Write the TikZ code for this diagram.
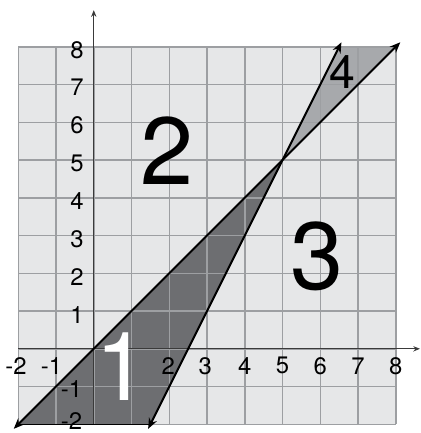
\documentclass[tikz,border=0pt]{standalone}
\usepackage{fontspec}
\setmainfont{TeX Gyre Heros}
\usetikzlibrary{arrows.meta}
\definecolor{gridfill}{HTML}{E6E7E8}
\definecolor{gridline}{HTML}{9D9FA2}
\definecolor{darkreg}{HTML}{6D6E71}
\definecolor{midreg}{HTML}{A7A9AC}
\definecolor{axiscol}{HTML}{3A3A3A}
\tikzset{
  gridlines/.style={gridline, line width=1.1pt},
  axisline/.style={axiscol, line width=0.8pt, -{Stealth[length=5pt,width=4pt]}},
  boundline/.style={black, line width=1.5pt, {Stealth[length=8pt,width=6.5pt]}-{Stealth[length=8pt,width=6.5pt]}},
  ticklab/.style={font=\fontsize{18}{20}\selectfont, inner sep=0pt},
  biglab/.style={font=\fontsize{72}{76}\selectfont, inner sep=0pt},
}
\begin{document}
\begin{tikzpicture}[x=1cm,y=1cm]
\useasboundingbox (-2.484,-2.23) rectangle (8.643,9.24);
% background grid fill
\fill[gridfill] (-2,-2) rectangle (8,8);
% regions
\coordinate (P) at (5,5);
\coordinate (Q1) at (-2,-2);
\coordinate (Q2) at (1.5,-2);
\coordinate (R1) at (6.5,8);
\coordinate (R2) at (8,8);
\fill[darkreg] (Q1) -- (P) -- (Q2) -- cycle;
\fill[midreg] (P) -- (R1) -- (R2) -- cycle;
% grid lines
\draw[gridlines] (-2,-2) grid (8,8);
% axes
\coordinate (xs) at (-2,0);
\coordinate (xe) at (8.64,0);
\coordinate (ys) at (0,-2);
\coordinate (ye) at (0,8.97);
\draw[axisline] (xs) -- (xe);
\draw[axisline] (ys) -- (ye);
% bottom edge of region 1
\draw[black, line width=1pt] (Q1) -- (Q2);
% boundary lines
\coordinate (A1) at (-2.12,-2.12);
\coordinate (A2) at (8.12,8.12);
\coordinate (B1) at (1.44,-2.12);
\coordinate (B2) at (6.56,8.12);
\draw[boundline] (A1) -- (A2);
\draw[boundline] (B1) -- (B2);
% x tick labels
\node[ticklab] (xm2) at (-2.06,-0.45) {-2};
\node[ticklab] (xm1) at (-1.12,-0.45) {-1};
\node[ticklab] (x2) at (1.97,-0.45) {2};
\node[ticklab] (x3) at (2.95,-0.45) {3};
\node[ticklab] (x4) at (4,-0.45) {4};
\node[ticklab] (x5) at (5,-0.45) {5};
\node[ticklab] (x6) at (6,-0.45) {6};
\node[ticklab] (x7) at (7,-0.45) {7};
\node[ticklab] (x8) at (8,-0.45) {8};
% y tick labels
\node[ticklab, anchor=east] (y8) at (-0.26,7.92) {8};
\node[ticklab, anchor=east] (y7) at (-0.26,6.92) {7};
\node[ticklab, anchor=east] (y6) at (-0.26,5.92) {6};
\node[ticklab, anchor=east] (y5) at (-0.26,4.92) {5};
\node[ticklab, anchor=east] (y4) at (-0.26,3.92) {4};
\node[ticklab, anchor=east] (y3) at (-0.26,2.9) {3};
\node[ticklab, anchor=east] (y2) at (-0.26,1.9) {2};
\node[ticklab, anchor=east] (y1) at (-0.26,0.9) {1};
\node[ticklab, anchor=east] (ym1) at (-0.3,-1.06) {-1};
\node[ticklab, anchor=east] (ym2) at (-0.3,-1.91) {-2};
% region labels
\node[biglab] (L2) at (1.94,5.26) {2};
\node[biglab] (L3) at (5.91,2.46) {3};
\node[biglab, white] (L1) at (0.75,-0.47) {1};
\node[ticklab, font=\fontsize{35}{38}\selectfont] (L4) at (6.58,7.34) {4};
\end{tikzpicture}
\end{document}
